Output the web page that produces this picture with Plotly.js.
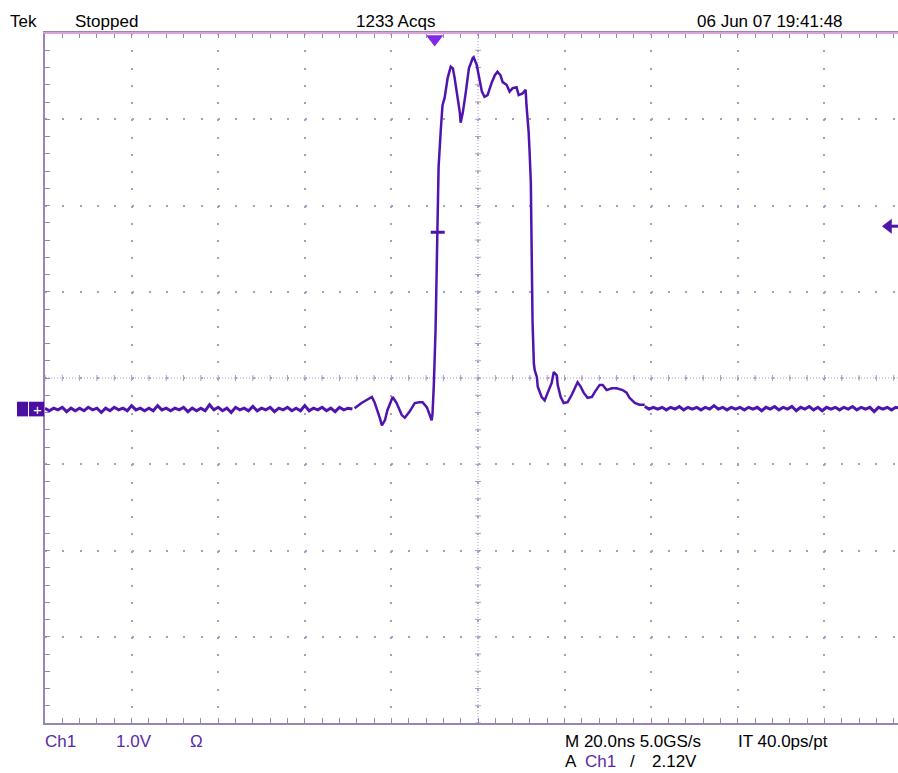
<!DOCTYPE html>
<html><head><meta charset="utf-8">
<script src="https://cdn.plot.ly/plotly-3.0.1.min.js"></script>
<style>html,body{margin:0;padding:0;background:#fff;}#chart{width:898px;height:773px;}</style>
</head><body><div id="chart"></div>
<script>
// ---------------- data (time in ns relative to trigger, Ch1 in volts) ----------------
const sampleStepNs = 1;
const leftNoiseStartNs = -90;
const leftNoiseV = [
  0.01,-0.02,0.01,-0.01,0.02,-0.03,0.01,-0.02,0.01,-0.02,0.02,-0.01,
  0.01,-0.04,0.01,-0.02,0.02,-0.01,0.01,-0.02,0.04,-0.01,0.01,-0.02,
  0.01,-0.02,0.04,-0.01,0.01,-0.02,0.01,-0.01,0.02,-0.03,0.01,-0.02,
  0.01,-0.02,0.05,-0.01,0.02,-0.02,0.01,-0.04,0.02,-0.01,0.01,-0.02,
  0.03,-0.02,0.01,-0.01,0.02,-0.03,0.01,-0.01,0.02,-0.02,0.01,-0.02,
  0.04,-0.02,0.01,-0.01,0.02,-0.02,0.01,-0.03,0.02,-0.01,0.01,0.00
];
const pulseTimeNs = [
  -18.5,-16.9,-14.5,-13.9,-12.7,-12.2,-11.5,-10.9,-9.7,-8.8,
  -7.6,-6.9,-5.8,-4.6,-3.5,-2.8,-1.8,-1.2,-0.7,-0.5,
  -0.2,0.2,0.6,0.9,1.4,1.6,1.8,2.3,3.0,3.7,
  4.2,4.6,5.3,5.8,6.0,6.5,7.2,7.9,8.8,9.0,
  9.7,10.2,10.9,11.5,12.2,13.2,13.9,14.5,15.2,15.7,
  16.6,17.3,18.0,18.9,19.4,20.3,21.0,21.2,21.5,21.7,
  21.9,22.2,22.4,22.6,22.9,23.1,23.6,23.8,24.7,25.4,
  26.1,27.0,27.5,28.2,28.4,29.1,29.8,30.7,31.6,32.6,
  33.0,33.7,34.4,35.3,36.3,37.0,38.1,38.8,39.7,40.9,
  42.0,43.4,44.3,45.0,46.2,47.3,48.5
];
const pulseV = [
  0.01,0.07,0.14,0.08,-0.10,-0.19,-0.13,-0.01,0.14,0.07,
  -0.07,-0.10,-0.03,0.07,0.08,0.08,0.02,-0.05,-0.13,-0.05,
  0.28,0.92,2.04,2.81,3.23,3.41,3.52,3.61,3.84,3.97,
  3.95,3.84,3.61,3.44,3.32,3.44,3.68,3.95,4.07,4.08,
  3.99,3.84,3.68,3.62,3.64,3.79,3.87,3.91,3.87,3.79,
  3.76,3.68,3.72,3.73,3.64,3.66,3.70,3.52,3.35,3.21,
  3.00,2.63,1.81,1.00,0.53,0.45,0.37,0.26,0.14,0.10,
  0.19,0.30,0.43,0.39,0.28,0.14,0.07,0.08,0.16,0.28,
  0.31,0.26,0.19,0.13,0.14,0.20,0.28,0.28,0.22,0.24,
  0.24,0.22,0.19,0.13,0.07,0.05,0.05
];
const rightNoiseStartNs = 48.5;
const rightNoiseV = [
  0.03,0.00,0.02,0.00,0.02,-0.01,0.02,0.00,0.03,-0.01,0.02,0.00,
  0.02,-0.01,0.02,0.00,0.04,0.00,0.02,-0.01,0.02,0.00,0.02,-0.01,
  0.02,0.00,0.02,-0.02,0.02,0.00,0.03,-0.01,0.02,0.00,0.03,-0.02,
  0.02,0.00,0.03,-0.01,0.02,-0.02,0.02,0.00,0.02,-0.01,0.02,0.00,
  0.03,-0.01,0.02,0.00,0.02,-0.03,0.02,0.00,0.02,-0.01,0.02,0.01
];
const triggerTimeNs = 0;
const triggerLevelV = 2.12;
const triggerMarkTimeNs = 0.7;
const triggerMarkV = 2.05;

// scope settings / labels
const nsPerDiv = 20;
const voltsPerDiv = 1.0;
const headerLabels = ["Tek", "Stopped", "1233 Acqs", "06 Jun 07 19:41:48"];
const footerRow1 = ["Ch1", "1.0V", "\u03A9", "M 20.0ns 5.0GS/s", "IT 40.0ps/pt"];
const footerRow2 = ["A", "Ch1", "/", "2.12V"];

// ---------------- layout helpers ----------------
const W = 898, H = 773, ML = 45, MT = 33, MB = 50, MR = 0;
const plotW = W - ML - MR, plotH = H - MT - MB;
const xRange = [-90, -90 + plotW / 4.33];
const yRange = [-3.64, 4.36];
const centerT = xRange[0] + 5 * nsPerDiv;
const centerV = yRange[0] + 4 * voltsPerDiv;
const pxX = X => (X - ML) / plotW;
const pxY = Y => (H - MB - Y) / plotH;

const traceColor = '#5014ae';
const gridColor = '#ae9cc8';
const borderColor = '#9a84b6';
const purpleText = '#5a28a8';
const font = 'Liberation Sans, Arial, sans-serif';

const traces = [
  {type:'scatter', mode:'lines', x0:leftNoiseStartNs, dx:sampleStepNs, y:leftNoiseV,
   line:{color:traceColor, width:3}, hoverinfo:'skip'},
  {type:'scatter', mode:'lines', x:pulseTimeNs, y:pulseV,
   line:{color:traceColor, width:2.5}, hoverinfo:'skip'},
  {type:'scatter', mode:'lines', x0:rightNoiseStartNs, dx:sampleStepNs, y:rightNoiseV,
   line:{color:traceColor, width:3}, hoverinfo:'skip'},
  // trigger position marker at top
  {type:'scatter', mode:'markers', x:[triggerTimeNs], y:[yRange[1] - 0.07],
   marker:{symbol:'triangle-down', size:15, color:'#8228e6'}, cliponaxis:false, hoverinfo:'skip'},
  // trigger level indicator at right edge
  {type:'scatter', mode:'lines', x:[xRange[1] - 2.2, xRange[1] + 2], y:[triggerLevelV, triggerLevelV],
   line:{color:traceColor, width:3}, hoverinfo:'skip'},
  {type:'scatter', mode:'markers', x:[xRange[1] - 2.2], y:[triggerLevelV],
   marker:{symbol:'triangle-left', size:13, color:traceColor}, cliponaxis:false, hoverinfo:'skip'},
  // trigger point mark on waveform
  {type:'scatter', mode:'markers', x:[triggerMarkTimeNs], y:[triggerMarkV],
   marker:{symbol:'line-ew', size:10, line:{color:traceColor, width:3}}, hoverinfo:'skip'}
];

const shapes = [];
// center dotted cross
shapes.push({type:'line', xref:'x', yref:'paper', x0:centerT, x1:centerT, y0:0, y1:1, layer:'below',
  line:{color:gridColor, width:1, dash:'1px,2px'}});
shapes.push({type:'line', xref:'paper', yref:'y', x0:0, x1:1, y0:centerV, y1:centerV, layer:'below',
  line:{color:gridColor, width:1, dash:'1px,2px'}});
for (let t = xRange[0]; t <= xRange[1]; t += nsPerDiv / 5) {
  shapes.push({type:'line', xref:'x', yref:'y', ysizemode:'pixel', yanchor:centerV,
    x0:t, x1:t, y0:-3, y1:3, layer:'below', line:{color:gridColor, width:1}});
}
for (let v = yRange[0]; v <= yRange[1] + 1e-6; v += voltsPerDiv / 5) {
  shapes.push({type:'line', xref:'x', yref:'y', xsizemode:'pixel', xanchor:centerT,
    x0:-3, x1:3, y0:v, y1:v, layer:'below', line:{color:gridColor, width:1}});
}
// top border (pink)
shapes.push({type:'line', xref:'paper', yref:'paper', x0:-0.002, x1:1, y0:1, y1:1,
  line:{color:'#dca0dc', width:2}});
// ground reference marker "1 ->"
shapes.push({type:'rect', xref:'paper', yref:'y', x0:pxX(17), x1:pxX(28), y0:-0.085, y1:0.085,
  fillcolor:'#4a0ea0', line:{width:0}});
shapes.push({type:'rect', xref:'paper', yref:'y', x0:pxX(29), x1:pxX(44), y0:-0.085, y1:0.085,
  fillcolor:'#4a0ea0', line:{width:0}});

function ann(text, X, Y, color, anchor) {
  return {text:text, xref:'paper', yref:'paper', x:pxX(X), y:pxY(Y), xanchor:anchor || 'left',
    yanchor:'middle', showarrow:false, font:{family:font, size:17, color:color}};
}
const annotations = [
  ann(headerLabels[0], 8, 21, '#000'),
  ann(headerLabels[1], 73, 21, '#000'),
  ann(headerLabels[2], 437, 21, '#000', 'right'),
  ann(headerLabels[3], 695, 21, '#000'),
  ann(footerRow1[0], 43, 741.5, purpleText),
  ann(footerRow1[1], 114, 741.5, purpleText),
  ann(footerRow1[2], 188, 741.5, purpleText),
  ann(footerRow1[3], 563, 741.5, '#000'),
  ann(footerRow1[4], 736, 741.5, '#000'),
  ann(footerRow2[0], 563, 761.5, '#000'),
  ann(footerRow2[1], 583, 761.5, purpleText),
  ann(footerRow2[2], 628, 761.5, '#000'),
  ann(footerRow2[3], 650, 761.5, '#000'),
  {text:'+', xref:'paper', yref:'y', x:pxX(37), y:0, xanchor:'center', yanchor:'middle',
   showarrow:false, font:{family:font, size:15, color:'#fff'}}
];

const layout = {
  width:W, height:H, margin:{l:ML, r:MR, t:MT, b:MB, pad:0},
  paper_bgcolor:'#fff', plot_bgcolor:'#fff', showlegend:false,
  xaxis:{range:xRange, tick0:xRange[0], dtick:nsPerDiv, showgrid:true, gridcolor:gridColor,
    griddash:'2px,15.25px', gridwidth:2, zeroline:false, showticklabels:false,
    ticks:'inside', ticklen:5, tickcolor:borderColor, tickwidth:1,
    showline:true, linecolor:borderColor, linewidth:2, mirror:'ticks',
    minor:{tick0:xRange[0], dtick:nsPerDiv/5, ticks:'inside', ticklen:5, tickcolor:borderColor, tickwidth:1, showgrid:false},
    fixedrange:true},
  yaxis:{range:yRange, tick0:centerV, dtick:voltsPerDiv, showgrid:true, gridcolor:gridColor,
    griddash:'2px,15.3px', gridwidth:2, zeroline:false, showticklabels:false,
    ticks:'inside', ticklen:5, tickcolor:borderColor, tickwidth:1,
    showline:true, linecolor:borderColor, linewidth:2, mirror:false,
    minor:{tick0:centerV, dtick:voltsPerDiv/5, ticks:'inside', ticklen:5, tickcolor:borderColor, tickwidth:1, showgrid:false},
    fixedrange:true},
  shapes:shapes, annotations:annotations
};
Plotly.newPlot('chart', traces, layout, {displayModeBar:false, staticPlot:true});
</script></body></html>
